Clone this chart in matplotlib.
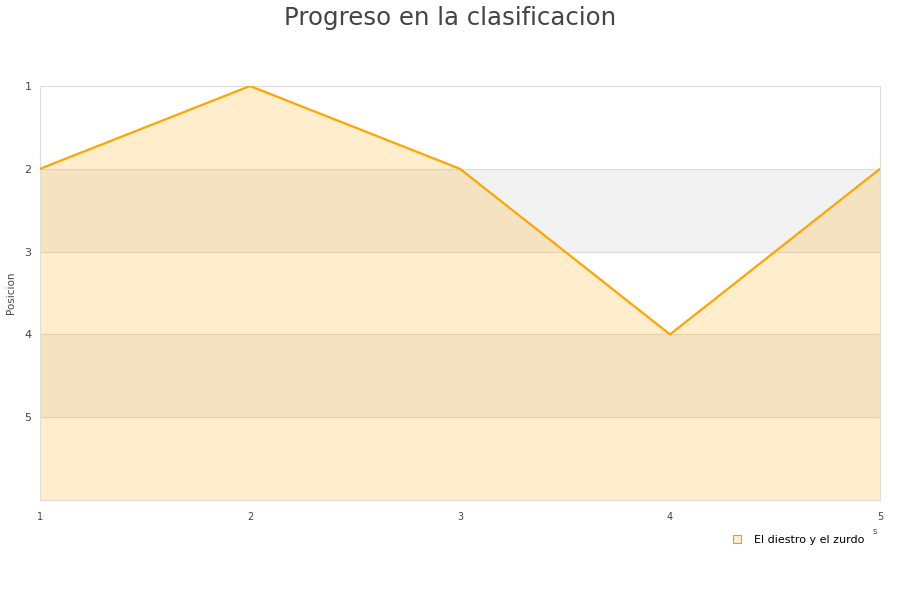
import matplotlib
matplotlib.use("Agg")
import matplotlib.pyplot as plt
from matplotlib.lines import Line2D

rounds = [1, 2, 3, 4, 5]
positions = [2, 1, 2, 4, 2]
series_name = "El diestro y el zurdo"
y_ticks = [1, 2, 3, 4, 5]

fig = plt.figure(figsize=(9, 6), dpi=100)
ax = fig.add_axes([40 / 900, 100 / 600, 840 / 900, 414 / 600])

# alternating bands
for lo, hi in [(2, 3), (4, 5)]:
    ax.axhspan(lo, hi, color="#f2f2f2", zorder=0, lw=0)
for t in y_ticks:
    ax.axhline(t, color="#dddddd", lw=0.8, zorder=1)

ax.fill_between(rounds, positions, 6, color="#ffa500", alpha=0.2, lw=0, zorder=2)
ax.plot(rounds, positions, color="#ffa500", lw=1.6, zorder=3)

ax.set_xlim(1, 5)
ax.set_ylim(6, 1)
ax.set_xticks(rounds)
ax.set_yticks(y_ticks)
ax.tick_params(axis="x", length=0, labelsize=7, colors="#444444", pad=9)
ax.tick_params(axis="y", length=0, labelsize=8, colors="#444444", pad=6)
for s in ax.spines.values():
    s.set_color("#dddddd")
    s.set_linewidth(0.8)

ax.set_ylabel("Posicion", fontsize=7.5, color="#444444")
ax.yaxis.set_label_coords(-0.029, 0.5)
fig.suptitle("Progreso en la clasificacion", fontsize=17.6, color="#444444", y=0.99)

handle = Line2D([], [], marker="s", ls="none", markersize=6,
                markerfacecolor="#ffedcc", markeredgecolor="#c8a060", markeredgewidth=0.8)
fig.legend([handle], [series_name], loc="upper right", bbox_to_anchor=(0.967, 0.117),
           frameon=False, fontsize=8, handletextpad=0.6, borderpad=0)
fig.text(875 / 900, 1 - 531 / 600, "s", fontsize=6, color="#444444", ha="center", va="center")

fig.savefig("out.png", dpi=100)
